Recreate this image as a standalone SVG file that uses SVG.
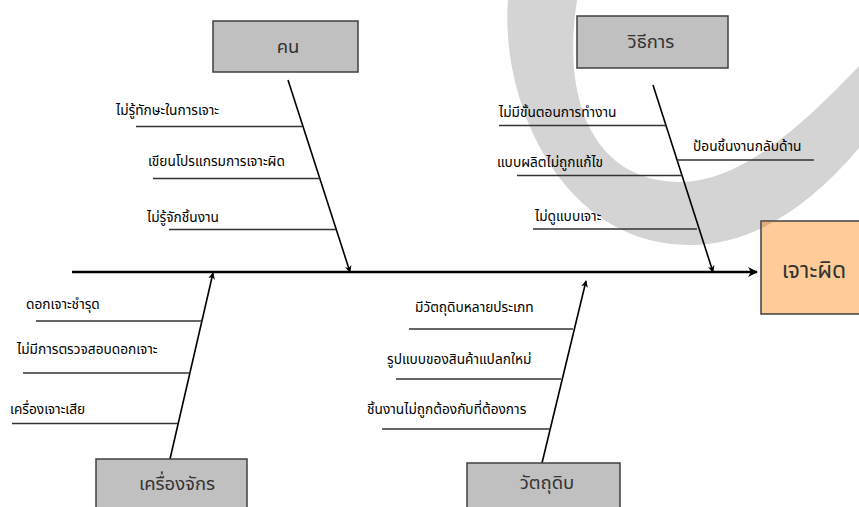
<svg xmlns="http://www.w3.org/2000/svg" width="859" height="507" viewBox="0 0 859 507">
<style>
.band{fill:#d4d4d4}
.cause rect{fill:#c0c0c0;stroke:#404040;stroke-width:1.5}
.cause text{font-family:"Noto Sans Thai","Noto Sans","DejaVu Sans",sans-serif;font-size:18.5px;fill:#333;text-anchor:middle}
.effect rect{fill:#ffcc99;stroke:#404040;stroke-width:1.5}
.effect text{font-family:"Noto Sans Thai","Noto Sans","DejaVu Sans",sans-serif;font-size:23px;fill:#333;text-anchor:middle}
.bone{stroke:#000;stroke-width:1.6;fill:none}
.spine{stroke:#000;stroke-width:2.5;fill:none}
.sub{stroke:#333;stroke-width:1.4;fill:none}
.lbl{font-family:"Noto Sans Thai","Noto Sans","DejaVu Sans",sans-serif;font-size:13.7px;fill:#000}
</style>
<defs>
<marker id="arr" viewBox="0 0 10 10" refX="9" refY="5" markerWidth="7" markerHeight="7" markerUnits="userSpaceOnUse" orient="auto">
<path d="M0,0 L10,5 L0,10 L3,5 Z" fill="#000"/>
</marker>
<marker id="arrS" viewBox="0 0 10 10" refX="9" refY="5" markerWidth="10" markerHeight="10" markerUnits="userSpaceOnUse" orient="auto">
<path d="M0,0 L10,5 L0,10 L3,5 Z" fill="#000"/>
</marker>
<clipPath id="effClip"><rect x="761" y="221" width="110" height="93"/></clipPath>
</defs>

<path id="band" class="band" d="M508 0 C500 100 560 245 690 245 C748 245 805 212 859 148 L859 66 C800 128 740 182 680 182 C600 182 560 110 577 0 Z"/>

<g id="connectors">
<line class="spine" x1="72" y1="272" x2="757" y2="272" marker-end="url(#arrS)"/>
<line class="bone" x1="288" y1="80" x2="350" y2="272" marker-end="url(#arr)"/>
<line class="bone" x1="653" y1="85" x2="713" y2="272" marker-end="url(#arr)"/>
<line class="bone" x1="170" y1="459" x2="213" y2="273" marker-end="url(#arr)"/>
<line class="bone" x1="542" y1="463" x2="586" y2="281" marker-end="url(#arr)"/>
<line class="sub" x1="136" y1="126.5" x2="302" y2="126.5"/>
<line class="sub" x1="153" y1="178.5" x2="320" y2="178.5"/>
<line class="sub" x1="169" y1="229.5" x2="336" y2="229.5"/>
<line class="sub" x1="499" y1="125.5" x2="666" y2="125.5"/>
<line class="sub" x1="677" y1="160" x2="814" y2="160"/>
<line class="sub" x1="517" y1="175.5" x2="682" y2="175.5"/>
<line class="sub" x1="533" y1="229" x2="697" y2="229"/>
<line class="sub" x1="36" y1="321" x2="202" y2="321"/>
<line class="sub" x1="23" y1="373" x2="190" y2="373"/>
<line class="sub" x1="12" y1="423.5" x2="178" y2="423.5"/>
<line class="sub" x1="409" y1="329" x2="573" y2="329"/>
<line class="sub" x1="396" y1="379" x2="561" y2="379"/>
<line class="sub" x1="382" y1="429" x2="550" y2="429"/>
</g>

<g id="labels">
<text class="lbl" x="116" y="115">ไม่รู้ทักษะในการเจาะ</text>
<text class="lbl" x="148" y="166">เขียนโปรแกรมการเจาะผิด</text>
<text class="lbl" x="147" y="222">ไม่รู้จักชิ้นงาน</text>
<text class="lbl" x="499" y="117">ไม่มีขั้นตอนการทำงาน</text>
<text class="lbl" x="693" y="151">ป้อนชิ้นงานกลับด้าน</text>
<text class="lbl" x="497" y="167">แบบผลิตไม่ถูกแก้ไข</text>
<text class="lbl" x="535" y="221">ไม่ดูแบบเจาะ</text>
<text class="lbl" x="26" y="309">ดอกเจาะชำรุด</text>
<text class="lbl" x="17" y="354">ไม่มีการตรวจสอบดอกเจาะ</text>
<text class="lbl" x="10" y="414">เครื่องเจาะเสีย</text>
<text class="lbl" x="415" y="312">มีวัตถุดิบหลายประเภท</text>
<text class="lbl" x="387" y="364">รูปแบบของสินค้าแปลกใหม่</text>
<text class="lbl" x="367" y="414">ชิ้นงานไม่ถูกต้องกับที่ต้องการ</text>
</g>

<g id="node-people" class="cause">
<rect x="213" y="21" width="145" height="51"/>
<text x="288" y="53">คน</text>
</g>
<g id="node-method" class="cause">
<rect x="577" y="16" width="151" height="52"/>
<text x="651" y="48">วิธีการ</text>
</g>
<g id="node-machine" class="cause">
<rect x="96" y="459" width="151" height="60"/>
<text x="177" y="490">เครื่องจักร</text>
</g>
<g id="node-material" class="cause">
<rect x="467" y="463" width="153" height="56"/>
<text x="547" y="489">วัตถุดิบ</text>
</g>
<g id="node-effect" class="effect">
<rect x="761" y="221" width="110" height="93"/>
<path d="M508 0 C500 100 560 245 690 245 C748 245 805 212 859 148 L859 66 C800 128 740 182 680 182 C600 182 560 110 577 0 Z" fill="#a06a40" opacity="0.3" clip-path="url(#effClip)"/>
<text x="814" y="278">เจาะผิด</text>
</g>
</svg>
